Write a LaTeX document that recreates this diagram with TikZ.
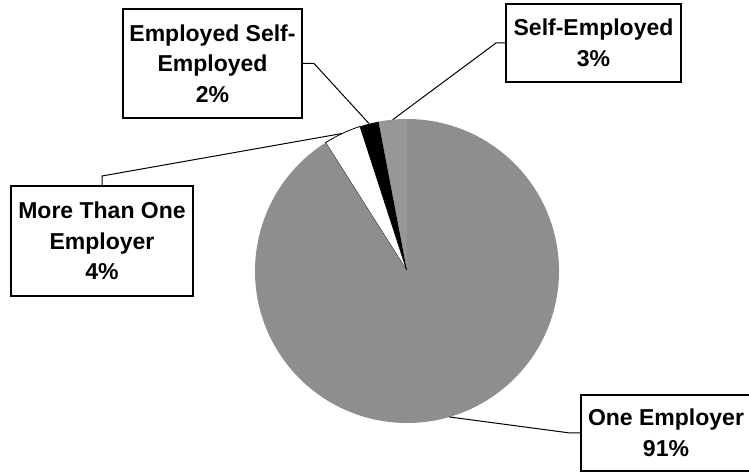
\documentclass[tikz,border=0pt]{standalone}
\usepackage{fontspec}
\setmainfont{Liberation Sans}
\usepackage{tikz}
\usetikzlibrary{calc,positioning}
\definecolor{piegray}{RGB}{142,142,142}
\definecolor{pielight}{RGB}{151,151,151}
\newcommand{\labelfont}{\fontsize{23}{30.5}\selectfont\bfseries}

\begin{document}
\begin{tikzpicture}[
        x=1pt, y=1pt,
        every node/.style={font=\labelfont},
        lbl/.style={rectangle, draw, line width=2pt, fill=white, align=center, inner sep=0pt},
        leader/.style={line width=1pt}
    ]
        \useasboundingbox (0,0) rectangle (749,473);
        \clip (0,0) rectangle (749,473);

        % pie, counter-clockwise from the top
        \coordinate (c) at (407,202);
        \fill[pielight] (c) -- ++(90:152) arc[start angle=90, end angle=100.8, radius=152] -- cycle;
        \fill[black] (c) -- ++(100.8:152) arc[start angle=100.8, end angle=108, radius=152] -- cycle;
        \filldraw[fill=white, draw=black, line width=0.8pt] (c) -- ++(108:152) arc[start angle=108, end angle=122.4, radius=152] -- cycle;
        \fill[piegray] (c) -- ++(122.4:152) arc[start angle=122.4, end angle=450, radius=152] -- cycle;

        \coordinate (pself) at ($(c)+(95.4:152)$);
        \coordinate (pemp) at ($(c)+(104.4:152)$);
        \coordinate (pmore) at ($(c)+(115.2:152)$);
        \coordinate (pone) at ($(c)+(286.2:152)$);

        \node[lbl, minimum width=179, minimum height=109] (emp) at (212.5,409.5) {Employed Self-\\Employed\\2\%};
        \node[lbl, minimum width=175, minimum height=78] (self) at (593.5,430) {Self-Employed\\3\%};
        \node[lbl, minimum width=182, minimum height=110] (more) at (102,232) {More Than One\\Employer\\4\%};
        \node[lbl, minimum width=170, minimum height=76] (one) at (666,40) {One Employer\\91\%};

        \draw[leader] (emp.east) -- ++(11,0) -- (pemp);
        \draw[leader] (self.west) -- ++(-9,0) -- (pself);
        \draw[leader] (more.north) -- ++(0,9) -- (pmore);
        \draw[leader] (one.west) -- ++(-10,0) -- (pone);
    \end{tikzpicture}
\end{document}
